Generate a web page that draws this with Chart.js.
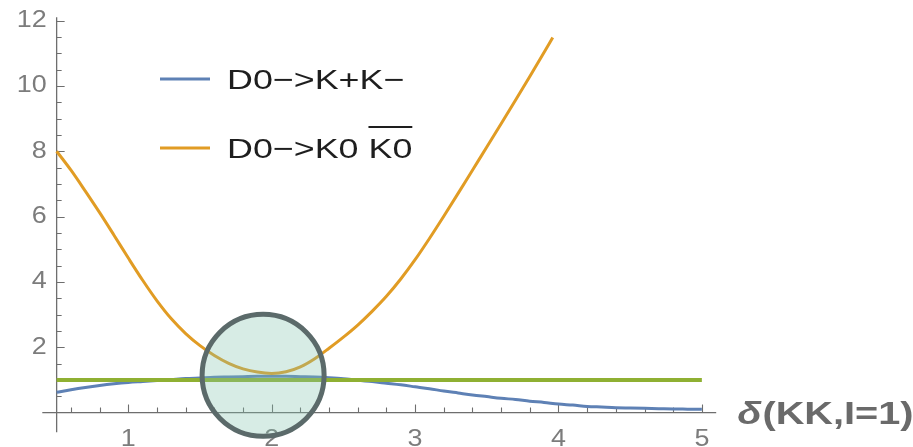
<!DOCTYPE html>
<html>
<head>
<meta charset="utf-8">
<script src="https://cdn.jsdelivr.net/npm/chart.js@4.4.1/dist/chart.umd.min.js"></script>
<style>
  html, body { margin: 0; padding: 0; background: #fff; }
  #wrap { width: 913px; height: 447px; position: relative; }
</style>
</head>
<body>
<div id="wrap"><canvas id="chart"></canvas></div>
<script>
// values
const xGrid = [0.5, 0.6, 0.7, 0.8, 0.9, 1.0, 1.1, 1.2, 1.3, 1.4, 1.5, 1.6, 1.7, 1.8, 1.9,
  2.0, 2.1, 2.2, 2.3, 2.4, 2.5, 2.6, 2.7, 2.8, 2.9, 3.0, 3.1, 3.2, 3.3, 3.4, 3.5, 3.6,
  3.7, 3.8, 3.9, 4.0, 4.1, 4.2, 4.3, 4.4, 4.5, 4.6, 4.7, 4.8, 4.9, 5.0];
const kPlusKMinus = [0.62, 0.70, 0.77, 0.83, 0.88, 0.92, 0.95, 0.98, 1.01, 1.04, 1.06, 1.08,
  1.09, 1.10, 1.11, 1.11, 1.11, 1.10, 1.09, 1.07, 1.04, 0.99, 0.95, 0.90, 0.85, 0.79, 0.73,
  0.66, 0.60, 0.54, 0.49, 0.44, 0.40, 0.35, 0.31, 0.26, 0.23, 0.19, 0.17, 0.15, 0.14, 0.13,
  0.12, 0.11, 0.105, 0.10];

const k0X = [0.5, 0.6, 0.7, 0.8, 0.9, 1.0, 1.1, 1.2, 1.3, 1.4, 1.5, 1.6, 1.7, 1.8, 1.9,
  2.0, 2.1, 2.2, 2.3, 2.4, 2.5, 2.6, 2.7, 2.8, 2.9, 3.0, 3.1, 3.2, 3.3, 3.4, 3.5, 3.6,
  3.7, 3.8, 3.9, 3.96];
const k0K0bar = [8.0, 7.42, 6.78, 6.12, 5.43, 4.73, 4.05, 3.42, 2.87, 2.42, 2.05, 1.75,
  1.51, 1.34, 1.24, 1.20, 1.25, 1.40, 1.65, 1.97, 2.31, 2.68, 3.10, 3.56, 4.09, 4.68,
  5.33, 6.01, 6.71, 7.42, 8.13, 8.84, 9.56, 10.29, 11.03, 11.48];

const flatX = [0.5, 5.0];
const flatY = [1, 1];

const highlight = [{ x: 1.94, y: 1.14 }];

const seriesNames = ["D0\u2212>K+K\u2212", "D0\u2212>K0 K0"];
const xTickValues = [1, 2, 3, 4, 5];
const xTickLabels = ["1", "2", "3", "4", "5"];
const yTickValues = [2, 4, 6, 8, 10, 12];
const yTickLabels = ["2", "4", "6", "8", "10", "12"];
const axisTitle = "(KK,I=1)";

const blue = "#5e81b5", orange = "#e19c24", green = "#8fb032";

function toPoints(xs, ys) {
  return xs.map((x, i) => ({ x: x, y: ys[i] }));
}

function wideText(ctx, text, x, y, sx, align) {
  ctx.save();
  ctx.translate(x, y);
  ctx.scale(sx, 1);
  ctx.textAlign = align;
  ctx.fillText(text, 0, 0);
  ctx.restore();
}

const axesPlugin = {
  id: "mmaAxes",
  beforeDatasetsDraw(chart) {
    const ctx = chart.ctx;
    const xs = chart.scales.x, ys = chart.scales.y;
    const x0 = xs.getPixelForValue(0.5);
    const y0 = ys.getPixelForValue(0);

    ctx.save();
    ctx.strokeStyle = "#6e6e6e";
    ctx.lineWidth = 1.3;
    ctx.beginPath();
    ctx.moveTo(xs.left, y0);
    ctx.lineTo(xs.right, y0);
    ctx.moveTo(x0, ys.bottom);
    ctx.lineTo(x0, ys.getPixelForValue(12.1));
    ctx.stroke();

    // inward ticks, major at integers, minor every 0.2
    ctx.lineWidth = 1.1;
    ctx.beginPath();
    for (let v = 0.6; v <= 5.001; v += 0.2) {
      const major = Math.abs(v - Math.round(v)) < 0.01;
      const px = Math.round(xs.getPixelForValue(v)) + 0.5;
      ctx.moveTo(px, y0);
      ctx.lineTo(px, y0 - (major ? 8 : 5));
    }
    for (let v = 0.5; v <= 12.001; v += 0.5) {
      const major = Math.abs(v / 2 - Math.round(v / 2)) < 0.01;
      const py = Math.round(ys.getPixelForValue(v)) + 0.5;
      ctx.moveTo(x0, py);
      ctx.lineTo(x0 + (major ? 8 : 5), py);
    }
    ctx.stroke();

    ctx.fillStyle = "#7c7c7c";
    ctx.font = "23px 'Liberation Sans', Arial, sans-serif";
    ctx.textBaseline = "middle";
    xTickValues.forEach((v, i) => {
      wideText(ctx, xTickLabels[i], xs.getPixelForValue(v), y0 + 27, 1.17, "center");
    });
    yTickValues.forEach((v, i) => {
      wideText(ctx, yTickLabels[i], x0 - 10, ys.getPixelForValue(v), 1.17, "right");
    });
    ctx.restore();
  },
  afterDraw(chart) {
    const ctx = chart.ctx;
    const xs = chart.scales.x, ys = chart.scales.y;
    const y0 = ys.getPixelForValue(0);
    ctx.save();

    // axis title
    ctx.fillStyle = "#6a6a6a";
    ctx.textBaseline = "alphabetic";
    ctx.font = "italic bold 31px 'Liberation Sans', Arial, sans-serif";
    let tx = xs.right + 21;
    wideText(ctx, "\u03b4", tx, y0 + 11, 1.28, "left");
    tx += ctx.measureText("\u03b4").width * 1.28 + 1;
    ctx.font = "bold 31px 'Liberation Sans', Arial, sans-serif";
    wideText(ctx, axisTitle, tx, y0 + 11, 1.28, "left");

    // legend
    const lx = 160, rows = [79, 148];
    const colors = [blue, orange];
    ctx.font = "28px 'Liberation Sans', Arial, sans-serif";
    ctx.lineWidth = 3;
    rows.forEach((ry, i) => {
      ctx.strokeStyle = colors[i];
      ctx.beginPath();
      ctx.moveTo(lx, ry);
      ctx.lineTo(lx + 50, ry);
      ctx.stroke();
      ctx.fillStyle = "#1e1e1e";
      wideText(ctx, seriesNames[i], lx + 67, ry + 10, 1.28, "left");
    });
    // overline on the anti-kaon
    const name = seriesNames[1];
    const cut = name.lastIndexOf(" ") + 1;
    const ox = lx + 67 + ctx.measureText(name.slice(0, cut)).width * 1.28;
    const ow = ctx.measureText(name.slice(cut)).width * 1.28;
    ctx.strokeStyle = "#1e1e1e";
    ctx.lineWidth = 2;
    ctx.beginPath();
    ctx.moveTo(ox, rows[1] - 21);
    ctx.lineTo(ox + ow, rows[1] - 21);
    ctx.stroke();
    ctx.restore();
  }
};

new Chart(document.getElementById("chart"), {
  type: "scatter",
  data: {
    datasets: [
      {
        label: "highlight",
        data: highlight,
        order: 0,
        clip: false,
        pointRadius: 61,
        pointHoverRadius: 61,
        pointBorderWidth: 5,
        pointBorderColor: "#5b6a6a",
        pointBackgroundColor: "rgba(130, 195, 175, 0.32)"
      },
      {
        label: "I=1",
        data: toPoints(flatX, flatY),
        order: 1,
        showLine: true,
        borderColor: green,
        borderWidth: 4,
        pointRadius: 0
      },
      {
        label: seriesNames[1],
        data: toPoints(k0X, k0K0bar),
        order: 2,
        showLine: true,
        borderColor: orange,
        borderWidth: 3,
        cubicInterpolationMode: "monotone",
        pointRadius: 0
      },
      {
        label: seriesNames[0],
        data: toPoints(xGrid, kPlusKMinus),
        order: 3,
        showLine: true,
        borderColor: blue,
        borderWidth: 3,
        cubicInterpolationMode: "monotone",
        pointRadius: 0
      }
    ]
  },
  options: {
    responsive: true,
    maintainAspectRatio: false,
    animation: false,
    layout: { autoPadding: false, padding: { left: 42.3, right: 196.8, top: 7.5, bottom: 14.8 } },
    plugins: { legend: { display: false }, tooltip: { enabled: false } },
    scales: {
      x: { type: "linear", min: 0.4, max: 5.1, display: false },
      y: { type: "linear", min: -0.6, max: 12.4, display: false }
    }
  },
  plugins: [axesPlugin]
});
</script>
</body>
</html>
